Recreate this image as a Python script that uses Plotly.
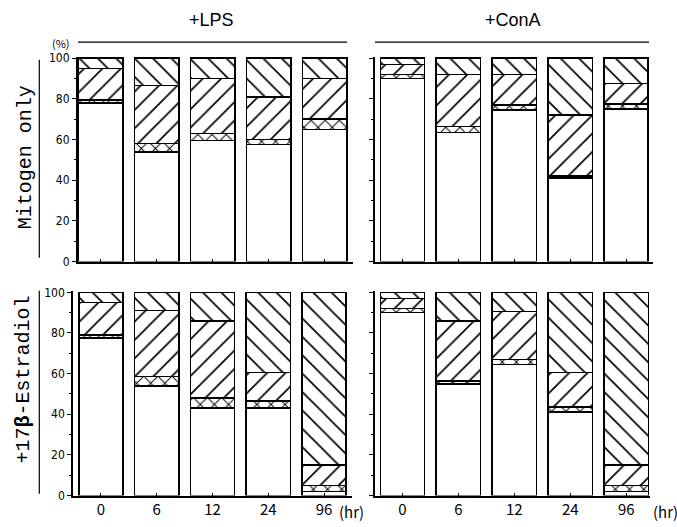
import plotly.graph_objects as go

W, H = 677, 527

hours = ["0", "6", "12", "24", "96"]

# Stacked fractions (%) per time point: white, cross-hatch, forward hatch, back hatch
lps_only_white = [78, 54, 59.5, 57.5, 65]
lps_only_cross = [1.5, 4, 3.5, 2.5, 5]
lps_only_fwd = [15.5, 28.5, 27, 21, 20]
lps_only_back = [5, 13.5, 10, 19, 10]

cona_only_white = [90, 63.5, 74.5, 41, 75]
cona_only_cross = [2, 3, 2.5, 1, 2.5]
cona_only_fwd = [5, 25.5, 15, 30, 10]
cona_only_back = [3, 8, 8, 28, 12.5]

lps_e2_white = [77.5, 54, 43, 43, 2]
lps_e2_cross = [1.5, 4.5, 5, 3.5, 3]
lps_e2_fwd = [16, 32.5, 38, 14, 10]
lps_e2_back = [5, 9, 14, 39.5, 85]

cona_e2_white = [90, 55, 64.5, 41, 2]
cona_e2_cross = [2, 1.5, 2.5, 2.5, 3]
cona_e2_fwd = [5, 29.5, 23.5, 17, 10]
cona_e2_back = [3, 14, 9.5, 39.5, 85]

y_ticks = [0, 20, 40, 60, 80, 100]

panels = [
    ("x", "y", [lps_only_white, lps_only_cross, lps_only_fwd, lps_only_back]),
    ("x2", "y2", [cona_only_white, cona_only_cross, cona_only_fwd, cona_only_back]),
    ("x3", "y3", [lps_e2_white, lps_e2_cross, lps_e2_fwd, lps_e2_back]),
    ("x4", "y4", [cona_e2_white, cona_e2_cross, cona_e2_fwd, cona_e2_back]),
]

patterns = [
    dict(shape=""),
    dict(shape="x", size=10, solidity=0.18, fgcolor="black", fgopacity=1, bgcolor="white", fillmode="overlay"),
    dict(shape="/", size=13, solidity=0.13, fgcolor="black", fgopacity=1, bgcolor="white", fillmode="overlay"),
    dict(shape="\\", size=13, solidity=0.13, fgcolor="black", fgopacity=1, bgcolor="white", fillmode="overlay"),
]

fig = go.Figure()
for xa, ya, segs in panels:
    for vals, pat in zip(segs, patterns):
        fig.add_trace(go.Bar(
            x=hours, y=vals, xaxis=xa, yaxis=ya, width=0.79,
            marker=dict(color="white", pattern=pat,
                        line=dict(color="black", width=1.6)),
            showlegend=False, hoverinfo="skip",
        ))

tick_font = dict(family="Liberation Sans Narrow, DejaVu Sans Condensed, Liberation Sans, sans-serif",
                 size=12, color="black")
xlab_font = dict(family="Noto Sans CJK JP, Liberation Sans, sans-serif", size=15, color="black")


def px_x(a, b):
    return [a / W, b / W]


def px_y(bottom, top):
    return [1 - bottom / H, 1 - top / H]


def xax(dom, rng, labels):
    return dict(domain=dom, range=rng, type="category", showline=True, linecolor="black",
                linewidth=1.5, ticks="inside", ticklen=3, tickcolor="black",
                showticklabels=labels, tickfont=xlab_font, showgrid=False, zeroline=False,
                fixedrange=True)


def yax(dom, rng, anchor, labels):
    return dict(domain=dom, range=rng, anchor=anchor, showline=True, linecolor="black",
                linewidth=1.5, ticks="outside", ticklen=4, tickcolor="black",
                tickvals=y_ticks, showticklabels=labels, tickfont=tick_font,
                minor=dict(ticks="outside", ticklen=2, dtick=10, tickcolor="black"),
                showgrid=False, zeroline=False, fixedrange=True)


fig.update_layout(
    width=W, height=H, margin=dict(l=0, r=0, t=0, b=0),
    paper_bgcolor="white", plot_bgcolor="white", barmode="stack", bargap=0.2,
    xaxis=dict(xax(px_x(77.7, 352.7), [-0.41, 4.5], False), anchor="y"),
    xaxis2=dict(xax(px_x(375, 653), [-0.49, 4.48], False), anchor="y2"),
    xaxis3=dict(xax(px_x(73, 352), [-0.5, 4.5], True), anchor="y3"),
    xaxis4=dict(xax(px_x(375, 650), [-0.49, 4.425], True), anchor="y4"),
    yaxis=yax(px_y(262, 51.9), [0, 100.8], "x", True),
    yaxis2=yax(px_y(262, 51.9), [0, 100.8], "x2", False),
    yaxis3=yax(px_y(502, 292.5), [0, 100.5], "x3", True),
    yaxis4=yax(px_y(502, 292.5), [0, 100.5], "x4", False),
)

title_font = dict(family="Liberation Sans, sans-serif", size=18, color="black")
side_font = dict(family="Liberation Mono, DejaVu Sans Mono, monospace", size=20, color="black")
small_font = dict(family="Noto Sans CJK JP, sans-serif", size=11, color="black")
unit_font = dict(family="Noto Sans CJK JP, sans-serif", size=15, color="black")

annotations = [
    dict(text="+LPS", x=212 / W, y=1 - 14 / H, font=title_font),
    dict(text="+ConA", x=513 / W, y=1 - 14 / H, font=title_font),
    dict(text="(%)", x=61 / W, y=1 - 38 / H, font=small_font),
    dict(text="Mitogen only", x=25 / W, y=1 - 155 / H, textangle=-90, font=side_font),
    dict(text="+17<b>β</b>-Estradiol", x=24 / W, y=1 - 383 / H, textangle=-90, font=side_font),
    dict(text="(hr)", x=352 / W, y=1 - 518 / H, font=unit_font),
    dict(text="(hr)", x=665 / W, y=1 - 518 / H, font=unit_font),
]
for a in annotations:
    a.update(xref="paper", yref="paper", showarrow=False, xanchor="center", yanchor="middle")
fig.update_layout(annotations=annotations)

line_style = dict(color="black", width=1.2)
shapes = [
    dict(x0=78 / W, x1=347 / W, y0=1 - 37 / H, y1=1 - 37 / H),
    dict(x0=375 / W, x1=649 / W, y0=1 - 37 / H, y1=1 - 37 / H),
    dict(x0=39.3 / W, x1=39.3 / W, y0=1 - 55 / H, y1=1 - 258 / H),
    dict(x0=39.3 / W, x1=39.3 / W, y0=1 - 292 / H, y1=1 - 500 / H),
]
for s in shapes:
    s.update(type="line", xref="paper", yref="paper", line=line_style)
fig.update_layout(shapes=shapes)

fig.write_html("out.html")
